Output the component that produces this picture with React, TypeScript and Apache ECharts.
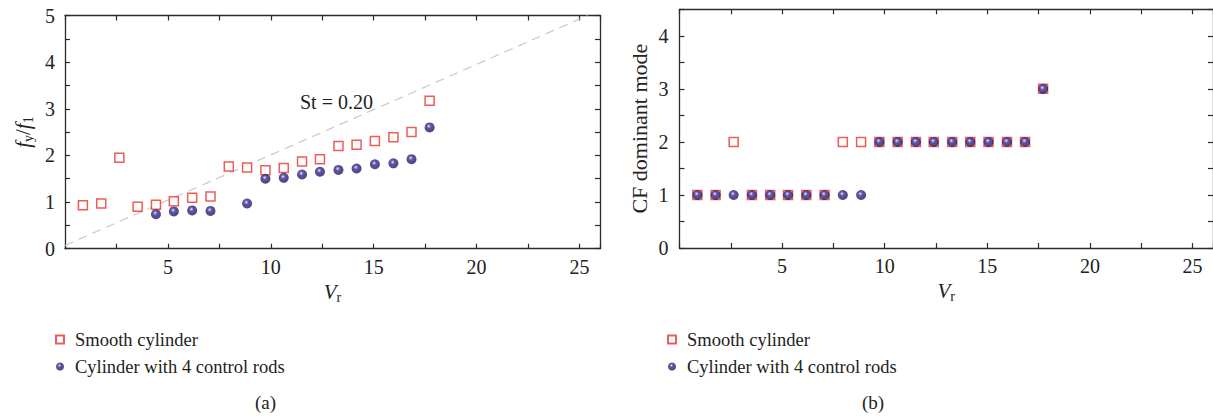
import React, { useEffect, useRef } from "react";
import * as echarts from "echarts";

// ---- data ----
const vr = [0.87, 1.76, 2.64, 3.53, 4.42, 5.29, 6.18, 7.07, 7.96, 8.85, 9.74, 10.63, 11.52, 12.39, 13.29, 14.17, 15.06, 15.96, 16.84, 17.72];
const smoothFreq = [0.93, 0.97, 1.95, 0.9, 0.94, 1.02, 1.09, 1.12, 1.76, 1.74, 1.68, 1.73, 1.87, 1.92, 2.2, 2.23, 2.31, 2.39, 2.5, 3.17];
const rodsVr = [4.42, 5.29, 6.18, 7.07, 8.85, 9.74, 10.63, 11.52, 12.39, 13.29, 14.17, 15.06, 15.96, 16.84, 17.72];
const rodsFreq = [0.74, 0.8, 0.82, 0.81, 0.97, 1.5, 1.52, 1.59, 1.65, 1.69, 1.72, 1.81, 1.83, 1.92, 2.6];
const smoothMode = [1, 1, 2, 1, 1, 1, 1, 1, 2, 2, 2, 2, 2, 2, 2, 2, 2, 2, 2, 3];
const rodsMode = [1, 1, 1, 1, 1, 1, 1, 1, 1, 1, 2, 2, 2, 2, 2, 2, 2, 2, 2, 3];
const stLineX = [0, 25.4];
const stLineY = [0.07, 5];
const xTicks = [0, 5, 10, 15, 20, 25];
const seriesNames = ["Smooth cylinder", "Cylinder with 4 control rods"];

const FONT = "'Liberation Serif', 'Times New Roman', serif";
const AXIS = "#2b2b2b";
const RED = "#e8342c";
const TXT = "#222";

const sphere = {
  type: "radial",
  x: 0.42,
  y: 0.38,
  r: 0.65,
  colorStops: [
    { offset: 0, color: "#ffffff" },
    { offset: 0.15, color: "#8a82c2" },
    { offset: 0.35, color: "#35288a" },
    { offset: 1, color: "#201560" },
  ],
};

const rich = {
  i: { fontFamily: FONT, fontSize: 21, fontStyle: "italic", color: TXT, lineHeight: 24, verticalAlign: "middle" },
  s: { fontFamily: FONT, fontSize: 14, color: TXT, lineHeight: 13, verticalAlign: "bottom" },
  n: { fontFamily: FONT, fontSize: 21, color: TXT, lineHeight: 24, verticalAlign: "middle" },
};

function makeX(grid: number, pos: "bottom" | "top", main: boolean) {
  return {
    type: "value",
    gridIndex: grid,
    position: pos,
    min: 0,
    max: 26,
    interval: 5,
    name: main ? "{i|V}{s|r}" : "",
    nameLocation: "middle",
    nameGap: 30,
    nameTextStyle: { fontFamily: FONT, color: TXT, rich },
    axisLine: { show: true, onZero: false, lineStyle: { color: AXIS, width: 1.3 } },
    axisTick: { show: true, inside: true, length: 5, lineStyle: { color: AXIS, width: 1.2 } },
    minorTick: { show: true, splitNumber: 2, length: 5, lineStyle: { color: AXIS, width: 1.2 } },
    axisLabel: {
      show: main,
      fontFamily: FONT,
      fontSize: 20,
      color: TXT,
      margin: 8,
      showMaxLabel: false,
      formatter: (v: number) => (xTicks.indexOf(v) >= 0 && v !== 0 ? String(v) : ""),
    },
    splitLine: { show: false },
  };
}

function makeY(grid: number, pos: "left" | "right", main: boolean, max: number, name: string, nameGap: number, labelMargin: number) {
  return {
    type: "value",
    gridIndex: grid,
    position: pos,
    min: 0,
    max,
    interval: 1,
    name: main ? name : "",
    nameLocation: "middle",
    nameGap,
    nameTextStyle: { fontFamily: FONT, fontSize: 22, color: TXT, rich },
    axisLine: { show: true, onZero: false, lineStyle: { color: AXIS, width: 1.3 } },
    axisTick: { show: true, inside: true, length: 5, lineStyle: { color: AXIS, width: 1.2 } },
    minorTick: { show: true, splitNumber: 2, length: 5, lineStyle: { color: AXIS, width: 1.2 } },
    axisLabel: {
      show: main,
      fontFamily: FONT,
      fontSize: 20,
      color: TXT,
      margin: labelMargin,
      showMaxLabel: max === 5,
      formatter: (v: number) => (Number.isInteger(v) ? String(v) : ""),
    },
    splitLine: { show: false },
  };
}

const zip = (xs: number[], ys: number[]) => xs.map((x, i) => [x, ys[i]]);

const legendBase = {
  orient: "vertical",
  itemWidth: 8,
  itemHeight: 8,
  itemGap: 8,
  data: seriesNames,
  selectedMode: false,
  textStyle: { fontFamily: FONT, fontSize: 18.5, color: TXT, padding: [0, 0, 0, 6], lineHeight: 19 },
};

export default function App() {
  const ref = useRef<HTMLDivElement>(null);
  useEffect(() => {
    if (!ref.current) return;
    const chart = echarts.init(ref.current, undefined, { renderer: "svg" });
    const squareStyle = { color: "#ffffff", borderColor: RED, borderWidth: 1.5 };
    const circleStyle = { color: sphere as any, borderWidth: 0 };
    const option: any = {
      animation: false,
      backgroundColor: "#ffffff",
      grid: [
        { left: 65, top: 15.5, width: 535, height: 233.2 },
        { left: 679.5, top: 9.3, width: 536, height: 238.7 },
      ],
      xAxis: [makeX(0, "bottom", true), makeX(0, "top", false), makeX(1, "bottom", true), makeX(1, "top", false)],
      yAxis: [
        makeY(0, "left", true, 5, "{i|f}{s|y}{n|/}{i|f}{s|1}", 30, 10),
        makeY(0, "right", false, 5, "", 0, 8),
        makeY(1, "left", true, 4.5, "CF dominant mode", 29, 11),
        makeY(1, "right", false, 4.5, "", 0, 8),
      ],
      legend: [
        { ...legendBase, left: 50, top: 325 },
        { ...legendBase, left: 662, top: 325 },
      ],
      graphic: [
        { type: "text", left: 300, top: 92, style: { text: "St = 0.20", fontFamily: FONT, fontSize: 20, fill: TXT } },
        { type: "text", left: 255, top: 393, style: { text: "(a)", fontFamily: FONT, fontSize: 19, fill: TXT } },
        { type: "text", left: 862, top: 393, style: { text: "(b)", fontFamily: FONT, fontSize: 19, fill: TXT } },
      ],
      series: [
        {
          name: "St",
          type: "line",
          xAxisIndex: 0,
          yAxisIndex: 0,
          data: zip(stLineX, stLineY),
          showSymbol: false,
          symbol: "none",
          lineStyle: { color: "#c9c9c9", width: 1.2, type: [9, 6] },
          silent: true,
          z: 1,
        },
        {
          name: seriesNames[0],
          type: "scatter",
          xAxisIndex: 0,
          yAxisIndex: 0,
          symbol: "rect",
          symbolSize: 9,
          itemStyle: squareStyle,
          data: zip(vr, smoothFreq),
          z: 3,
        },
        {
          name: seriesNames[1],
          type: "scatter",
          xAxisIndex: 0,
          yAxisIndex: 0,
          symbol: "circle",
          symbolSize: 10,
          itemStyle: circleStyle,
          data: zip(rodsVr, rodsFreq),
          z: 4,
        },
        {
          name: seriesNames[0],
          type: "scatter",
          xAxisIndex: 2,
          yAxisIndex: 2,
          symbol: "rect",
          symbolSize: 9,
          itemStyle: squareStyle,
          data: zip(vr, smoothMode),
          z: 3,
        },
        {
          name: seriesNames[1],
          type: "scatter",
          xAxisIndex: 2,
          yAxisIndex: 2,
          symbol: "circle",
          symbolSize: 10,
          itemStyle: circleStyle,
          data: zip(vr, rodsMode),
          z: 4,
        },
      ],
    };
    chart.setOption(option);
    return () => chart.dispose();
  }, []);
  return <div ref={ref} style={{ position: "absolute", left: 0, top: 0, width: 1213, height: 417 }} />;
}
